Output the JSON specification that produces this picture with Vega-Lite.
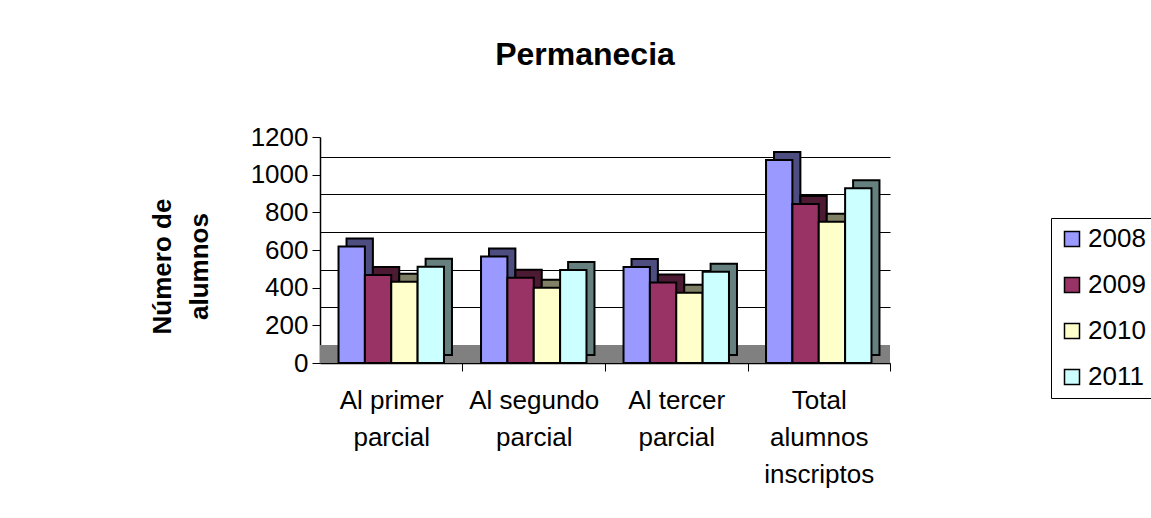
{
  "$schema": "https://vega.github.io/schema/vega-lite/v6.json",
  "autosize": "none",
  "width": 570,
  "height": 226,
  "padding": {"left": 320, "top": 137, "right": 261, "bottom": 155},
  "background": "white",
  "config": {
    "font": "Liberation Sans",
    "view": {"stroke": null}
  },
  "title": {
    "text": "Permanecia",
    "fontSize": 32,
    "fontWeight": "bold",
    "color": "black",
    "anchor": "middle",
    "dx": -20,
    "offset": 52
  },
  "data": {
    "values": [
      {"cat": "Al primer|parcial", "year": "2008", "value": 618},
      {"cat": "Al primer|parcial", "year": "2009", "value": 467},
      {"cat": "Al primer|parcial", "year": "2010", "value": 432},
      {"cat": "Al primer|parcial", "year": "2011", "value": 511},
      {"cat": "Al segundo|parcial", "year": "2008", "value": 565},
      {"cat": "Al segundo|parcial", "year": "2009", "value": 453},
      {"cat": "Al segundo|parcial", "year": "2010", "value": 400},
      {"cat": "Al segundo|parcial", "year": "2011", "value": 494},
      {"cat": "Al tercer|parcial", "year": "2008", "value": 510},
      {"cat": "Al tercer|parcial", "year": "2009", "value": 428},
      {"cat": "Al tercer|parcial", "year": "2010", "value": 373},
      {"cat": "Al tercer|parcial", "year": "2011", "value": 485},
      {"cat": "Total|alumnos|inscriptos", "year": "2008", "value": 1078},
      {"cat": "Total|alumnos|inscriptos", "year": "2009", "value": 844},
      {"cat": "Total|alumnos|inscriptos", "year": "2010", "value": 750},
      {"cat": "Total|alumnos|inscriptos", "year": "2011", "value": 928}
    ]
  },
  "resolve": {
    "scale": {"color": "independent", "xOffset": "independent"},
    "axis": {"y": "independent"}
  },
  "layer": [
    {
      "mark": {"type": "rect", "color": "#808080"},
      "encoding": {
        "y": {
          "datum": 0,
          "type": "quantitative",
          "scale": {"domain": [0, 1200]},
          "axis": null
        },
        "y2": {"datum": 95}
      }
    },
    {
      "mark": {"type": "bar", "stroke": "black", "strokeWidth": 2, "yOffset": -8},
      "encoding": {
        "x": {
          "field": "cat",
          "type": "nominal",
          "sort": null,
          "scale": {"paddingInner": 0.26, "paddingOuter": 0.13}
        },
        "xOffset": {"field": "year", "type": "nominal", "scale": {"range": [8, 113.45]}},
        "y": {
          "field": "value",
          "type": "quantitative",
          "axis": {
            "orient": "right",
            "values": [200, 400, 600, 800, 1000],
            "title": null,
            "labels": false,
            "ticks": false,
            "domain": false,
            "grid": true,
            "gridColor": "black",
            "gridWidth": 1,
            "tickOffset": -18
          }
        },
        "color": {
          "field": "year",
          "type": "nominal",
          "scale": {"range": ["#4D4D80", "#4D1A33", "#808066", "#668080"]},
          "legend": null
        }
      }
    },
    {
      "mark": {"type": "bar", "stroke": "black", "strokeWidth": 2},
      "encoding": {
        "x": {
          "field": "cat",
          "type": "nominal",
          "sort": null,
          "scale": {"paddingInner": 0.26, "paddingOuter": 0.13},
          "axis": {
            "title": null,
            "labelAngle": 0,
            "labelAlign": "center",
            "labelExpr": "split(datum.label, '|')",
            "labelFontSize": 26,
            "labelColor": "black",
            "labelLineHeight": 37,
            "labelPadding": 16,
            "labelBaseline": "top",
            "labelOffset": -71.25,
            "ticks": true,
            "tickOffset": 71.25,
            "tickSize": 8,
            "tickColor": "black",
            "domainColor": "black",
            "domainWidth": 1.5
          }
        },
        "xOffset": {"field": "year", "type": "nominal"},
        "y": {
          "field": "value",
          "type": "quantitative",
          "axis": {
            "orient": "left",
            "values": [0, 200, 400, 600, 800, 1000, 1200],
            "format": "d",
            "labelOverlap": false,
            "grid": false,
            "title": ["Número de", "alumnos"],
            "titleFontSize": 26,
            "titleFontWeight": "bold",
            "titleColor": "black",
            "titleAngle": -90,
            "titleX": -145,
            "titleY": 129,
            "titleAlign": "center",
            "titleLineHeight": 37,
            "labelFontSize": 26,
            "labelColor": "black",
            "labelPadding": 4,
            "tickColor": "black",
            "tickSize": 8,
            "domainColor": "black",
            "domainWidth": 1.5
          }
        },
        "color": {
          "field": "year",
          "type": "nominal",
          "scale": {"range": ["#9999FF", "#993366", "#FFFFCC", "#CCFFFF"]},
          "legend": {
            "title": null,
            "orient": "none",
            "legendX": 731,
            "legendY": 81,
            "symbolType": "square",
            "symbolSize": 225,
            "symbolStrokeColor": "black",
            "symbolStrokeWidth": 1.5,
            "labelFontSize": 26,
            "labelColor": "black",
            "rowPadding": 20,
            "strokeColor": "black",
            "padding": 8,
            "labelOffset": 3
          }
        }
      }
    }
  ]
}
